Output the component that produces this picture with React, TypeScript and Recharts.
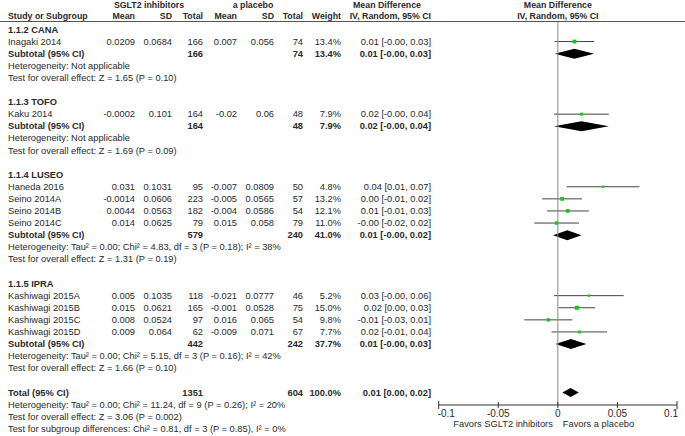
import React from 'react';
import { ComposedChart, Bar, XAxis, YAxis, ReferenceLine } from 'recharts';

// subgroups
const groupTitles = ['1.1.2 CANA', '1.1.3 TOFO', '1.1.4 LUSEO', '1.1.5 IPRA'];
const subSgltN = [166, 164, 579, 442];
const subPlaceboN = [74, 48, 240, 242];
const subWeight = ['13.4%', '7.9%', '41.0%', '37.7%'];
const subMD = [0.0139, 0.0198, 0.0079, 0.011];
const subLow = [-0.0026, -0.0032, -0.004, -0.002];
const subHigh = [0.0304, 0.0428, 0.0198, 0.024];
const subCI = ['0.01 [-0.00, 0.03]', '0.02 [-0.00, 0.04]', '0.01 [-0.00, 0.02]', '0.01 [-0.00, 0.03]'];
const heterogeneity = [
  'Heterogeneity: Not applicable',
  'Heterogeneity: Not applicable',
  'Heterogeneity: Tau² = 0.00; Chi² = 4.83, df = 3 (P = 0.18); I² = 38%',
  'Heterogeneity: Tau² = 0.00; Chi² = 5.15, df = 3 (P = 0.16); I² = 42%',
];
const overallTests = [
  'Test for overall effect: Z = 1.65 (P = 0.10)',
  'Test for overall effect: Z = 1.69 (P = 0.09)',
  'Test for overall effect: Z = 1.31 (P = 0.19)',
  'Test for overall effect: Z = 1.66 (P = 0.10)',
];

// studies
const studyNames = [
  'Inagaki 2014', 'Kaku 2014', 'Haneda 2016', 'Seino 2014A', 'Seino 2014B',
  'Seino 2014C', 'Kashiwagi 2015A', 'Kashiwagi 2015B', 'Kashiwagi 2015C', 'Kashiwagi 2015D',
];
const studyGroup = [0, 1, 2, 2, 2, 2, 3, 3, 3, 3];
const sgltMean = ['0.0209', '-0.0002', '0.031', '-0.0014', '0.0044', '0.014', '0.005', '0.015', '0.008', '0.009'];
const sgltSD = ['0.0684', '0.101', '0.1031', '0.0606', '0.0563', '0.0625', '0.1035', '0.0621', '0.0524', '0.064'];
const sgltN = [166, 164, 95, 223, 182, 79, 118, 165, 97, 62];
const placeboMean = ['0.007', '-0.02', '-0.007', '-0.005', '-0.004', '0.015', '-0.021', '-0.001', '0.016', '-0.009'];
const placeboSD = ['0.056', '0.06', '0.0809', '0.0565', '0.0586', '0.058', '0.0777', '0.0528', '0.065', '0.071'];
const placeboN = [74, 48, 50, 57, 54, 79, 46, 75, 54, 67];
const studyWeight = [13.4, 7.9, 4.8, 13.2, 12.1, 11.0, 5.2, 15.0, 9.8, 7.7];
const studyMD = [0.0139, 0.0198, 0.038, 0.0036, 0.0084, -0.001, 0.026, 0.016, -0.008, 0.018];
const studyLow = [-0.0026, -0.0032, 0.0075, -0.0131, -0.0092, -0.0198, -0.0032, 0.0007, -0.0282, -0.0053];
const studyHigh = [0.0304, 0.0428, 0.0685, 0.0203, 0.026, 0.0178, 0.0552, 0.0313, 0.0122, 0.0413];
const studyCI = [
  '0.01 [-0.00, 0.03]', '0.02 [-0.00, 0.04]', '0.04 [0.01, 0.07]', '0.00 [-0.01, 0.02]', '0.01 [-0.01, 0.03]',
  '-0.00 [-0.02, 0.02]', '0.03 [-0.00, 0.06]', '0.02 [0.00, 0.03]', '-0.01 [-0.03, 0.01]', '0.02 [-0.01, 0.04]',
];

// overall
const totalSgltN = 1351;
const totalPlaceboN = 604;
const totalWeight = '100.0%';
const totalMD = 0.0107;
const totalLow = 0.0038;
const totalHigh = 0.0176;
const totalCI = '0.01 [0.00, 0.02]';
const totalNotes = [
  'Heterogeneity: Tau² = 0.00; Chi² = 11.24, df = 9 (P = 0.26); I² = 20%',
  'Test for overall effect: Z = 3.06 (P = 0.002)',
  'Test for subgroup differences: Chi² = 0.81, df = 3 (P = 0.85), I² = 0%',
];

const xTicks = [-0.1, -0.05, 0, 0.05, 0.1];
const xTickLabels = ['-0.1', '-0.05', '0', '0.05', '0.1'];

type Row = {
  id: string;
  kind: 'group' | 'study' | 'subtotal' | 'note' | 'blank' | 'total';
  label?: string;
  cells?: (string | number)[];
  ci?: [number, number];
  md?: number;
  weight?: number;
};

const rows: Row[] = [];
groupTitles.forEach((title, g) => {
  rows.push({ id: `g${g}`, kind: 'group', label: title });
  studyNames.forEach((name, i) => {
    if (studyGroup[i] !== g) return;
    rows.push({
      id: `s${i}`,
      kind: 'study',
      label: name,
      cells: [sgltMean[i], sgltSD[i], sgltN[i], placeboMean[i], placeboSD[i], placeboN[i], `${studyWeight[i].toFixed(1)}%`, studyCI[i]],
      ci: [studyLow[i], studyHigh[i]],
      md: studyMD[i],
      weight: studyWeight[i],
    });
  });
  rows.push({
    id: `sub${g}`,
    kind: 'subtotal',
    label: 'Subtotal (95% CI)',
    cells: ['', '', subSgltN[g], '', '', subPlaceboN[g], subWeight[g], subCI[g]],
    ci: [subLow[g], subHigh[g]],
    md: subMD[g],
  });
  rows.push({ id: `het${g}`, kind: 'note', label: heterogeneity[g] });
  rows.push({ id: `test${g}`, kind: 'note', label: overallTests[g] });
  rows.push({ id: `gap${g}`, kind: 'blank' });
});
rows.push({
  id: 'total',
  kind: 'total',
  label: 'Total (95% CI)',
  cells: ['', '', totalSgltN, '', '', totalPlaceboN, totalWeight, totalCI],
  ci: [totalLow, totalHigh],
  md: totalMD,
});
const rowById: Record<string, Row> = {};
rows.forEach((r) => (rowById[r.id] = r));

// layout
const W = 685;
const H = 436;
const FONT = "'Liberation Sans', Arial, sans-serif";
const FS = 9.3;
const HEAD_FS = 8.8;
const TEXT = '#2a2a2a';
const RULE_Y = 21;
const AXIS_Y = 405;
const ROW_H = 12.1;
const FIRST_ROW_Y = 29.5;
const PLOT_LEFT = 438.7;
const PLOT_RIGHT = 677;
const COLS = [135, 172, 203, 237, 274, 303, 341, 431];
const padTop = FIRST_ROW_Y - RULE_Y - ROW_H / 2;
const padBottom = AXIS_Y - (FIRST_ROW_Y + (rows.length - 0.5) * ROW_H);
const totalY = FIRST_ROW_Y + (rows.length - 1) * ROW_H;
const zeroX = (PLOT_LEFT + PLOT_RIGHT) / 2;

const RowTick = (props: any) => {
  const { y, payload } = props;
  const row = rowById[payload.value];
  if (!row || row.kind === 'blank') return <g />;
  const bold = row.kind === 'group' || row.kind === 'subtotal' || row.kind === 'total';
  return (
    <g fontFamily={FONT} fontSize={FS} fill={TEXT} fontWeight={bold ? 'bold' : 'normal'}>
      <text x={8} y={y} dominantBaseline="central">{row.label}</text>
      {(row.cells || []).map((c, i) =>
        c === '' ? null : (
          <text key={i} x={COLS[i]} y={y} textAnchor="end" dominantBaseline="central">
            {c}
          </text>
        ),
      )}
    </g>
  );
};

const XTick = (props: any) => {
  const { x, y, payload, index } = props;
  const last = index === xTicks.length - 1;
  const anchor = index === 0 ? 'start' : last ? 'end' : 'middle';
  const dx = index === 0 ? -1 : last ? 1 : 0;
  const len = index === 0 || last ? 4 : 3;
  return (
    <g>
      <line x1={x} x2={x} y1={y - len} y2={y + len} stroke="#333" />
      <text x={x + dx} y={y + 8.5} textAnchor={anchor} dominantBaseline="central" fontFamily={FONT} fontSize={10} fill={TEXT}>
        {xTickLabels[xTicks.indexOf(payload.value)]}
      </text>
    </g>
  );
};

const ForestMark = (props: any) => {
  const { x, y, width, height, payload } = props;
  if (!payload || !payload.ci || !(width > 0)) return <g />;
  const cy = y + height / 2;
  const mx = x + (width * (payload.md - payload.ci[0])) / (payload.ci[1] - payload.ci[0]);
  if (payload.kind === 'study') {
    const s = Math.sqrt(payload.weight) * 1.05;
    return (
      <g>
        <line x1={x} x2={x + width} y1={cy} y2={cy} stroke="#444" strokeWidth={1} />
        <rect x={mx - s / 2} y={cy - s / 2} width={s} height={s} fill="#16c816" />
      </g>
    );
  }
  const h = payload.kind === 'total' ? 9 : 10;
  return <polygon points={`${x},${cy} ${mx},${cy - h / 2} ${x + width},${cy} ${mx},${cy + h / 2}`} fill="#000" />;
};

const Header = () => (
  <svg width={W} height={H} style={{ position: 'absolute', left: 0, top: 0, pointerEvents: 'none' }}>
    <g fontFamily={FONT} fontSize={HEAD_FS} fill={TEXT} fontWeight="bold">
      <text x={149} y={4.5} textAnchor="middle" dominantBaseline="central">SGLT2 inhibitors</text>
      <text x={253} y={4.5} textAnchor="middle" dominantBaseline="central">a placebo</text>
      <text x={387} y={4.5} textAnchor="middle" dominantBaseline="central">Mean Difference</text>
      <text x={zeroX} y={4.5} textAnchor="middle" dominantBaseline="central">Mean Difference</text>
      <text x={8} y={15.5} dominantBaseline="central">Study or Subgroup</text>
      {['Mean', 'SD', 'Total', 'Mean', 'SD', 'Total', 'Weight', 'IV, Random, 95% CI'].map((t, i) => (
        <text key={i} x={COLS[i]} y={15.5} textAnchor="end" dominantBaseline="central">{t}</text>
      ))}
      <text x={zeroX} y={15.5} textAnchor="middle" dominantBaseline="central">IV, Random, 95% CI</text>
    </g>
    <line x1={0} x2={W} y1={RULE_Y + 0.5} y2={RULE_Y + 0.5} stroke="#555" />
    <g fontFamily={FONT} fontSize={FS} fill={TEXT}>
      {totalNotes.map((t, i) => (
        <text key={i} x={8} y={totalY + (i + 1) * ROW_H} dominantBaseline="central">{t}</text>
      ))}
      <text x={zeroX - 5} y={424} textAnchor="end" dominantBaseline="central">Favors SGLT2 inhibitors</text>
      <text x={zeroX + 5} y={424} dominantBaseline="central">Favors a placebo</text>
    </g>
  </svg>
);

export default function App() {
  return (
    <div style={{ position: 'absolute', left: 0, top: 0, width: W, height: H, background: '#fff' }}>
      <ComposedChart
        layout="vertical"
        width={W}
        height={H}
        data={rows}
        margin={{ top: RULE_Y, right: W - PLOT_RIGHT, bottom: 0, left: 0 }}
      >
        <XAxis
          type="number"
          domain={[-0.1, 0.1]}
          ticks={xTicks}
          interval={0}
          height={H - AXIS_Y}
          axisLine={{ stroke: '#333' }}
          tickLine={false}
          tickSize={0}
          tickMargin={0}
          tick={XTick}
          allowDataOverflow
        />
        <YAxis
          type="category"
          dataKey="id"
          width={PLOT_LEFT}
          axisLine={false}
          tickLine={false}
          interval={0}
          tick={RowTick}
          padding={{ top: padTop, bottom: padBottom }}
        />
        <ReferenceLine x={0} stroke="#888" />
        <Bar dataKey="ci" barSize={10} shape={ForestMark} isAnimationActive={false} />
      </ComposedChart>
      <Header />
    </div>
  );
}
